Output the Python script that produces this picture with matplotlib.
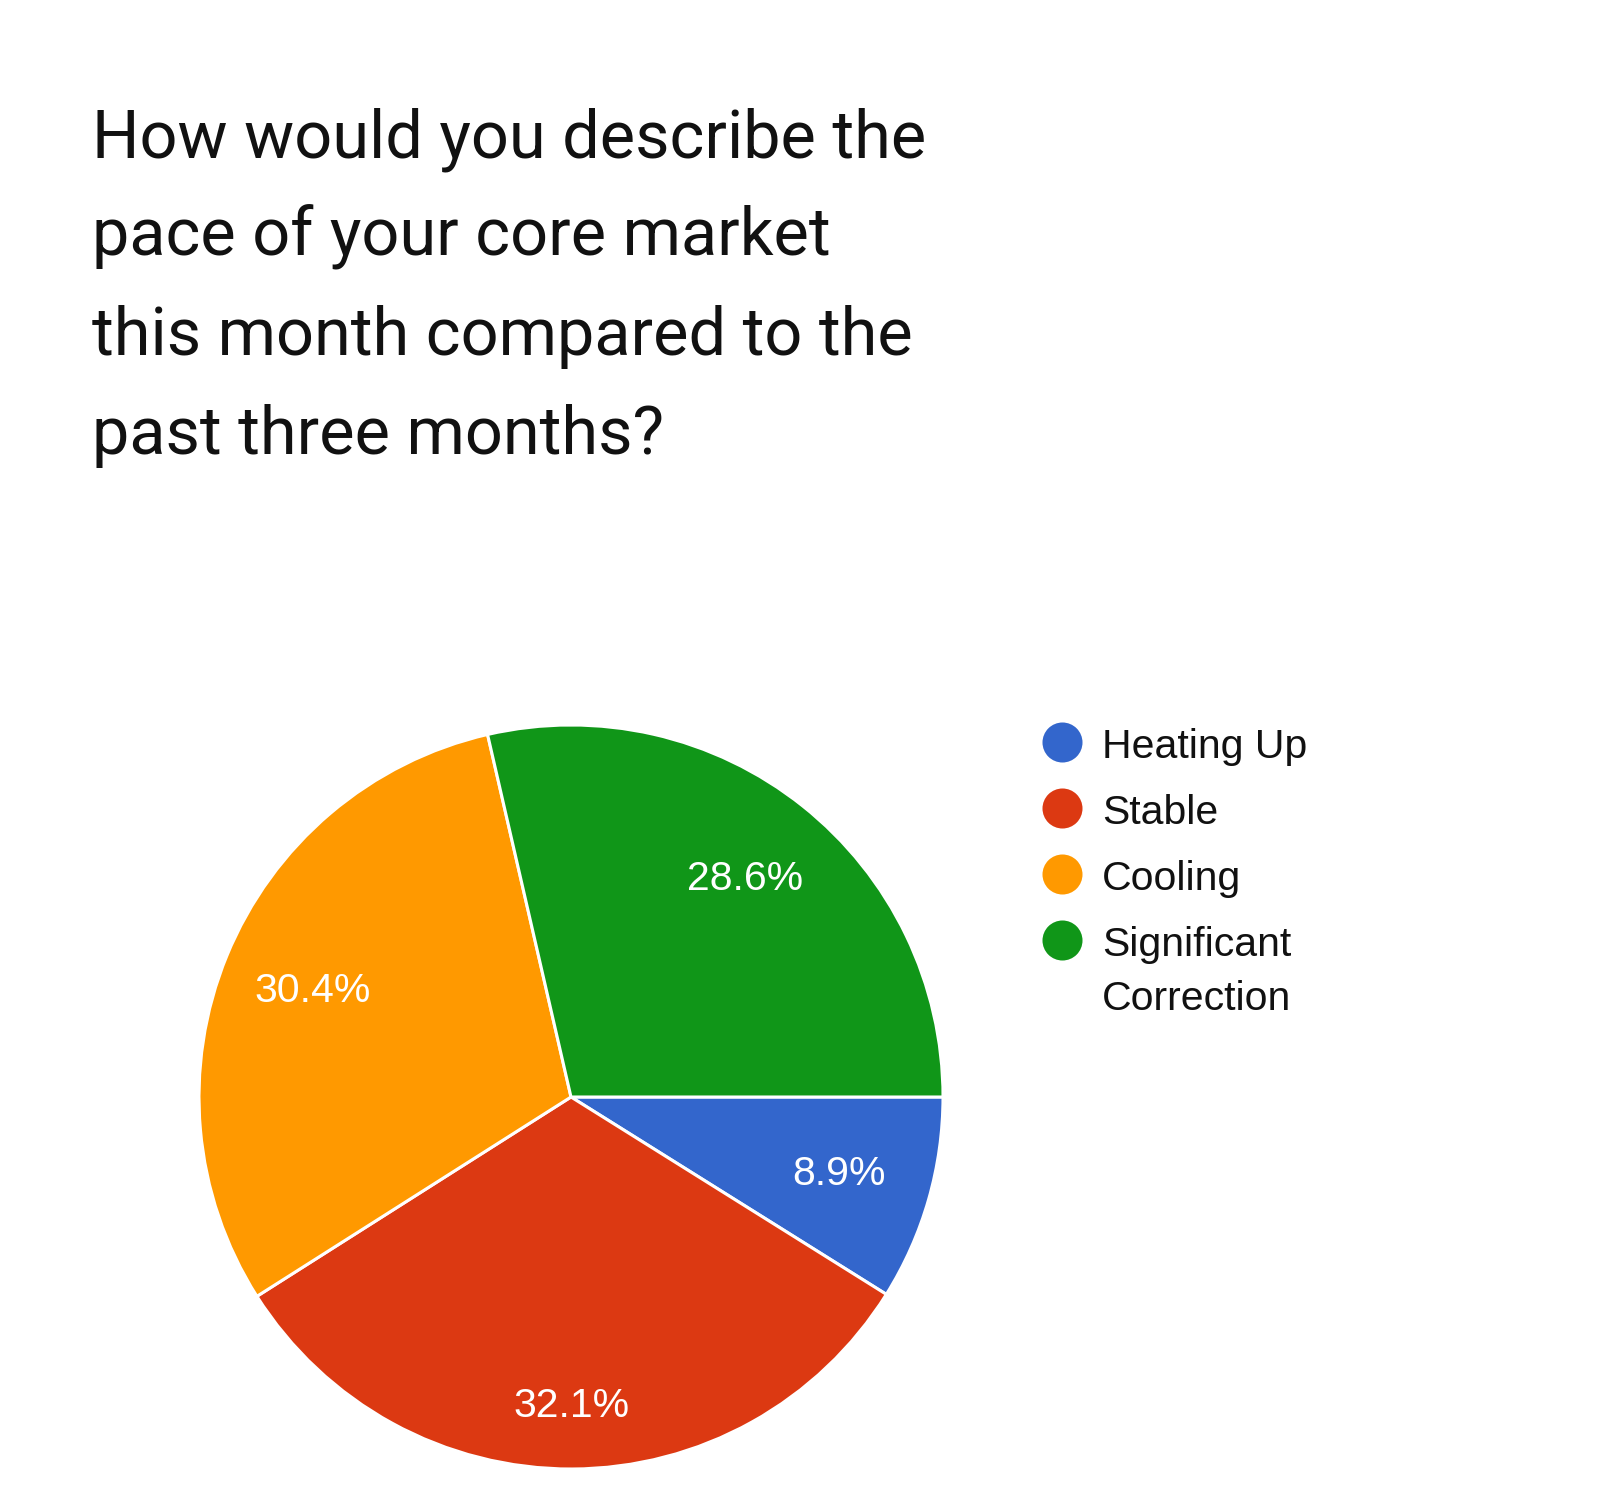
import numpy as np
import matplotlib.pyplot as plt

# survey answers (share of responses, %)
categories = ["Heating Up", "Stable", "Cooling", "Significant\nCorrection"]
shares = [8.9, 32.1, 30.4, 28.6]
colors = ["#3366cc", "#dc3912", "#ff9900", "#109618"]
title_lines = [
    "How would you describe the",
    "pace of your core market",
    "this month compared to the",
    "past three months?",
]

W, H = 1600, 1486
fig = plt.figure(figsize=(W / 100, H / 100), dpi=100)
fig.patch.set_facecolor("white")

# pie: centre (571, 1097) px, radius 372 px
cx, cy, r = 571, 1097, 372
ax = fig.add_axes([(cx - r) / W, (H - cy - r) / H, 2 * r / W, 2 * r / H])
wedges, texts, autotexts = ax.pie(
    shares, colors=colors, startangle=0, counterclock=False,
    autopct="%.1f%%", pctdistance=0.75,
    wedgeprops=dict(edgecolor="white", linewidth=2.2),
    textprops=dict(color="white", fontsize=29.5, family="Liberation Sans"),
)
# the big bottom slice puts its label further out
x, y = autotexts[1].get_position()
autotexts[1].set_position((x * 0.83 / 0.75, y * 0.83 / 0.75))
ax.set_xlim(-1, 1)
ax.set_ylim(-1, 1)
ax.set_aspect("equal")
ax.axis("off")

# overlay in pixel coords for title and legend
ov = fig.add_axes([0, 0, 1, 1], zorder=-1)
ov.set_xlim(0, W)
ov.set_ylim(H, 0)
ov.axis("off")

for i, line in enumerate(title_lines):
    ov.text(92, 157 + i * 99, line, fontsize=48, family="Roboto",
            color="#111111", va="baseline", ha="left")

# legend
ly0, lstep = 742, 66
for i, (lab, col) in enumerate(zip(categories, colors)):
    y = ly0 + i * lstep
    ov.scatter([1062], [y], s=830, color=col, linewidths=0)
    for j, part in enumerate(lab.split("\n")):
        ov.text(1102, y + 16 + j * 54, part, fontsize=29.5,
                family="Liberation Sans", color="#111111", va="baseline")

fig.savefig("out.png", dpi=100, facecolor="white")
